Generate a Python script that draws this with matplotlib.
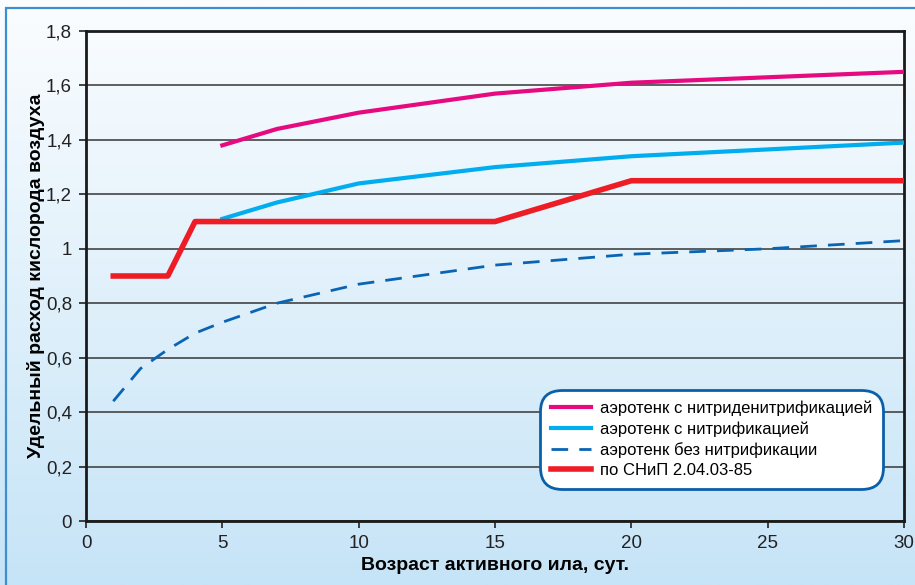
import numpy as np
import matplotlib.pyplot as plt
from matplotlib.patches import Rectangle
from matplotlib.colors import LinearSegmentedColormap

# возраст ила, сут.
x_nd = [5, 7, 10, 15, 20, 30]
y_nd = [1.38, 1.44, 1.50, 1.57, 1.61, 1.65]

x_n = [5, 7, 10, 15, 20, 30]
y_n = [1.11, 1.17, 1.24, 1.30, 1.34, 1.39]

x_bez = [1, 2, 3, 4, 5, 7, 10, 15, 20, 25, 30]
y_bez = [0.44, 0.56, 0.63, 0.69, 0.73, 0.80, 0.87, 0.94, 0.98, 1.00, 1.03]

x_snip = [1, 3, 4, 15, 20, 30]
y_snip = [0.90, 0.90, 1.10, 1.10, 1.25, 1.25]

labels = ['аэротенк с нитриденитрификацией',
          'аэротенк с нитрификацией',
          'аэротенк без нитрификации',
          'по СНиП 2.04.03-85']

plt.rcParams['font.family'] = ['Liberation Sans', 'DejaVu Sans']

fig = plt.figure(figsize=(9.15, 5.85), dpi=100)

# фон с градиентом и рамка
bg = fig.add_axes([0, 0, 1, 1], zorder=-10)
grad = np.linspace(0, 1, 256).reshape(-1, 1)
cmap = LinearSegmentedColormap.from_list('bg', ['#c6e4f7', '#fbfdff'])
bg.imshow(grad, aspect='auto', cmap=cmap, origin='lower', extent=[0, 1, 0, 1])
bg.set_xlim(0, 1)
bg.set_ylim(0, 1)
bg.axis('off')
bg.add_patch(Rectangle((6 / 915, -0.05), 1.2, 1 - 8 / 585 + 0.05, fill=False,
                       edgecolor='#3d8fd0', linewidth=1.6))

ax = fig.add_axes([86 / 915, 1 - 521 / 585, (904 - 86) / 915, (521 - 31) / 585])
ax.patch.set_alpha(0)

ax.plot(x_nd, y_nd, color='#e6097f', linewidth=3, label=labels[0], zorder=3)
ax.plot(x_n, y_n, color='#00aeef', linewidth=3, label=labels[1], zorder=3)
ax.plot(x_bez, y_bez, color='#0a64b4', linewidth=2, dashes=(6, 4), label=labels[2], zorder=3)
ax.plot(x_snip, y_snip, color='#ee1c25', linewidth=4, label=labels[3], zorder=4)

ax.set_xlim(0, 30)
ax.set_ylim(0, 1.8)
ax.set_xticks(range(0, 31, 5))
ax.set_yticks(np.arange(0, 1.81, 0.2))
ax.set_yticklabels(['0', '0,2', '0,4', '0,6', '0,8', '1', '1,2', '1,4', '1,6', '1,8'])
ax.grid(axis='y', color='#444444', linewidth=1.2)
ax.tick_params(labelsize=13.5, colors='#222222', length=5, width=1.2, pad=5)

for side in ['left', 'bottom', 'top', 'right']:
    ax.spines[side].set_color('#1a1a1a')
    ax.spines[side].set_linewidth(2)

ax.set_xlabel('Возраст активного ила, сут.', fontsize=14, fontweight='bold', labelpad=4)
ax.set_ylabel('Удельный расход кислорода воздуха', fontsize=14, fontweight='bold', labelpad=1)

leg = ax.legend(loc='lower right', bbox_to_anchor=(0.98, 0.055), fontsize=12,
                frameon=True, fancybox=True, handlelength=2.4, labelspacing=0.32,
                borderpad=0.45, handletextpad=0.5)
frame = leg.get_frame()
frame.set_edgecolor('#0a5fa8')
frame.set_linewidth(2)
frame.set_facecolor('white')
frame.set_alpha(1)
frame.set_boxstyle('round,pad=0.2,rounding_size=1.3')

fig.savefig('out.png', dpi=100)
